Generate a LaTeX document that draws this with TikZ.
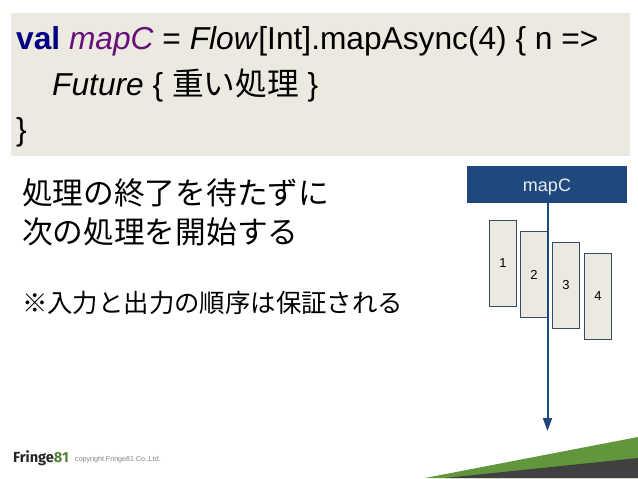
\documentclass[tikz,border=0pt]{standalone}
\usepackage{fontspec}
\setmainfont{Liberation Sans}
\newfontfamily\cjk{Noto Sans CJK JP}
\newfontfamily\logofont{Fira Sans}
\usetikzlibrary{arrows.meta}
\definecolor{codebg}{RGB}{236,233,224}
\definecolor{navy}{RGB}{31,73,125}
\definecolor{edgeblue}{RGB}{50,75,105}
\definecolor{kwblue}{RGB}{0,0,128}
\definecolor{purp}{RGB}{102,14,122}
\definecolor{leaf}{RGB}{98,150,60}
\definecolor{dark}{RGB}{64,64,64}
\definecolor{logogreen}{RGB}{84,130,53}
\tikzset{
  code/.style={anchor=base west,inner sep=0pt,font=\fontsize{31.7}{31.7}\selectfont,text=black},
  jp/.style={anchor=base west,inner sep=0pt,font=\fontsize{30.7}{30.7}\selectfont\cjk,text=black},
  jpsmall/.style={anchor=base west,inner sep=0pt,font=\fontsize{25.4}{25.4}\selectfont\cjk,text=black},
  task/.style={draw=edgeblue,line width=1pt,fill=codebg,minimum width=27pt,minimum height=86pt,inner sep=0pt,font=\fontsize{13}{13}\selectfont},
  header/.style={fill=navy,text=white!90!navy,minimum width=160pt,minimum height=37pt,inner sep=0pt,font=\fontsize{18}{18}\selectfont},
  flow/.style={draw=navy,line width=2pt,-{Triangle[length=13pt,width=9pt]}}
}
\begin{document}
\begin{tikzpicture}[x=1pt,y=-1pt]
\useasboundingbox (0,0) rectangle (638,479);
\fill[white] (0,0) rectangle (638,479);
\fill[codebg] (11,13) rectangle (630,155.5);
\node[code] (l1) at (16,49) {\textcolor{kwblue}{\bfseries val} \textcolor{purp}{\itshape mapC} = \textit{Flow}[Int].mapAsync(4) \{ n =>};
\node[code] (l2) at (52,95) {\textit{Future} \{ {\cjk 重い処理} \}};
\node[code] (l3) at (16,140) {\}};
\node[jp] (t1) at (22,204) {処理の終了を待たずに};
\node[jp] (t2) at (22,243) {次の処理を開始する};
\node[jpsmall] (t3) at (22,312) {※入力と出力の順序は保証される};
\node[header,text depth=0pt] (hd) at (547,184.5) {\raisebox{-1.5pt}{mapC}};
\coordinate (end) at (547.5,431);
\node[task] (a) at (503,263) {1};
\node[task] (b) at (534,274.5) {2};
\node[task] (c) at (566,285) {3};
\node[task] (d) at (598,296.5) {4};
\draw[flow] (hd.south -| end) -- (end);
\fill[leaf] (425,478) -- (638,437) -- (638,478) -- cycle;
\fill[dark] (445,478) -- (638,458) -- (638,478) -- cycle;
\node[anchor=base west,inner sep=0pt,font=\fontsize{14.6}{14.6}\selectfont\logofont\bfseries] (logo) at (13,462) {\textcolor{black!85}{Fringe}\textcolor{logogreen}{81}};
\node[anchor=base west,inner sep=0pt,font=\fontsize{7.1}{7.1}\selectfont,text=black!50] (copy) at (75,461) {copyright Fringe81 Co.,Ltd.};
\end{tikzpicture}
\end{document}
